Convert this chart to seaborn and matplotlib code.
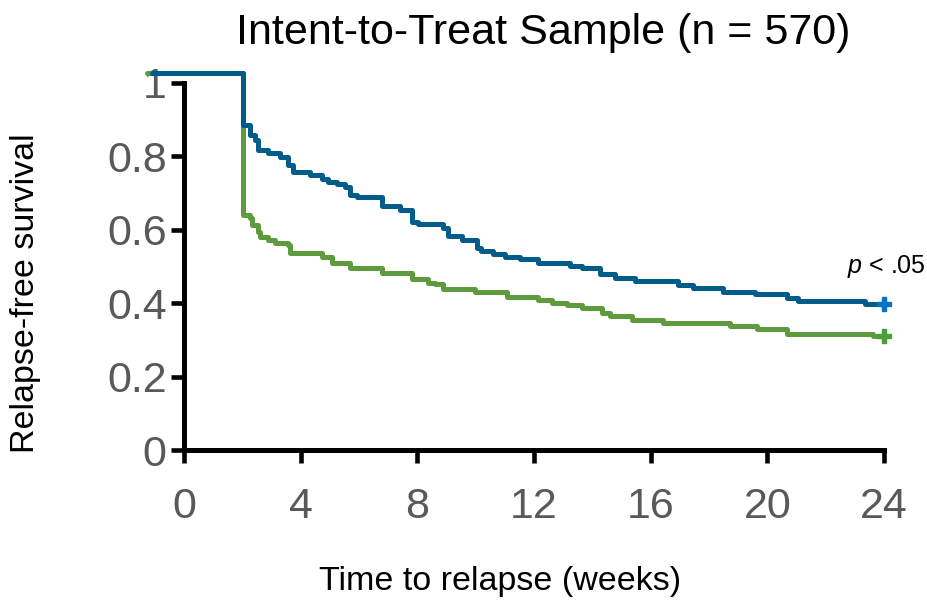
import matplotlib
matplotlib.use("Agg")
import matplotlib.pyplot as plt
import seaborn as sns
import pandas as pd

# ---- data ----
blue_weeks = [-1.10, 2.02, 2.26, 2.45, 2.55, 2.88, 3.29, 3.57, 3.74, 4.32, 4.73, 4.94,
              5.25, 5.52, 5.69, 5.93, 6.79, 7.40, 7.82, 8.02, 8.88, 9.05, 9.53, 10.04,
              10.18, 10.59, 11.00, 11.52, 12.14, 13.23, 13.64, 14.26, 14.78, 15.46,
              16.94, 17.45, 18.48, 19.57, 20.67, 21.05, 23.35, 24.0]
blue_surv = [1.027, 0.886, 0.858, 0.845, 0.817, 0.809, 0.798, 0.777, 0.757, 0.749, 0.738, 0.730,
             0.725, 0.717, 0.695, 0.689, 0.665, 0.654, 0.621, 0.616, 0.605, 0.583, 0.572, 0.550,
             0.542, 0.534, 0.526, 0.520, 0.510, 0.501, 0.496, 0.480, 0.469, 0.460,
             0.450, 0.441, 0.431, 0.425, 0.414, 0.405, 0.399, 0.399]

green_weeks = [-1.27, 2.02, 2.26, 2.33, 2.54, 2.61, 2.88, 3.12, 3.57, 3.63, 4.73, 5.07,
               5.69, 6.79, 7.82, 8.36, 8.60, 8.88, 9.98, 11.07, 12.14, 12.62, 13.13,
               13.64, 14.33, 14.60, 15.36, 16.42, 18.72, 19.64, 20.67, 23.62, 24.0]
green_surv = [1.027, 0.640, 0.632, 0.613, 0.594, 0.580, 0.572, 0.564, 0.559, 0.537, 0.526, 0.510,
              0.496, 0.482, 0.466, 0.455, 0.452, 0.439, 0.431, 0.417, 0.409, 0.401, 0.395,
              0.387, 0.373, 0.365, 0.354, 0.346, 0.338, 0.330, 0.316, 0.311, 0.311]

group_names = ["Group B", "Group A"]          # green drawn first, blue on top
line_colors = {"Group A": "#015C89", "Group B": "#5E9B3C"}
marker_colors = {"Group A": "#0A72C4", "Group B": "#4B9E39"}

x_ticks = [0, 4, 8, 12, 16, 20, 24]
y_ticks = [0, 0.2, 0.4, 0.6, 0.8, 1.0]
y_tick_labels = ["0", "0.2", "0.4", "0.6", "0.8", "1"]

title = "Intent-to-Treat Sample (n = 570)"
x_label = "Time to relapse (weeks)"
y_label = "Relapse-free survival"
p_text = r"$p$ < .05"

# ---- build tables ----
df = pd.concat([
    pd.DataFrame({"week": green_weeks, "survival": green_surv, "group": "Group B"}),
    pd.DataFrame({"week": blue_weeks, "survival": blue_surv, "group": "Group A"}),
], ignore_index=True)
ends = df.groupby("group", sort=False).tail(1)

# ---- style ----
sns.set_style("ticks")
plt.rcParams["font.family"] = ["Liberation Sans", "DejaVu Sans"]
plt.rcParams["mathtext.fontset"] = "custom"
plt.rcParams["mathtext.it"] = "Liberation Sans:italic"
plt.rcParams["mathtext.rm"] = "Liberation Sans"

fig = plt.figure(figsize=(9.28, 6.05), dpi=100)
ax = fig.add_axes([184 / 928, 155 / 605, 700 / 928, 367 / 605])

sns.lineplot(data=df, x="week", y="survival", hue="group", hue_order=group_names,
             palette=line_colors, estimator=None, sort=False, legend=False,
             drawstyle="steps-post", lw=3.6, clip_on=False, ax=ax)
for g in group_names:
    sub = ends[ends["group"] == g]
    ax.plot(sub["week"], sub["survival"], linestyle="none", marker="P", ms=10.5,
            color=marker_colors[g], mec=marker_colors[g], clip_on=False, zorder=5)

ax.set_xlim(0, 24)
ax.set_ylim(0, 1)
ax.set_xticks(x_ticks)
ax.set_xticklabels([str(t) for t in x_ticks])
ax.set_yticks(y_ticks)
ax.set_yticklabels(y_tick_labels)
ax.set_xlabel("")
ax.set_ylabel("")

for s in ["top", "right"]:
    ax.spines[s].set_visible(False)
for s in ["left", "bottom"]:
    ax.spines[s].set_linewidth(3.6)
    ax.spines[s].set_color("black")

ax.tick_params(axis="both", which="major", direction="out", length=9.5, width=3.3,
               color="black", labelsize=31, labelcolor="#595959",
               bottom=True, left=True, top=False, right=False)
ax.tick_params(axis="x", pad=17)
ax.tick_params(axis="y", pad=3)

fig.text(543 / 928, 1 - 44 / 605, title, ha="center", va="baseline", fontsize=31, color="black")
fig.text(500 / 928, 1 - 590 / 605, x_label, ha="center", va="baseline", fontsize=24.5, color="black")
fig.text(26 / 928, 1 - 293 / 605, y_label, ha="center", va="center", rotation=90,
         fontsize=24.5, color="black")
fig.text(847 / 928, 1 - 273 / 605, p_text, ha="left", va="baseline", fontsize=18, color="black")

fig.savefig("out.png", dpi=100, facecolor="white")
